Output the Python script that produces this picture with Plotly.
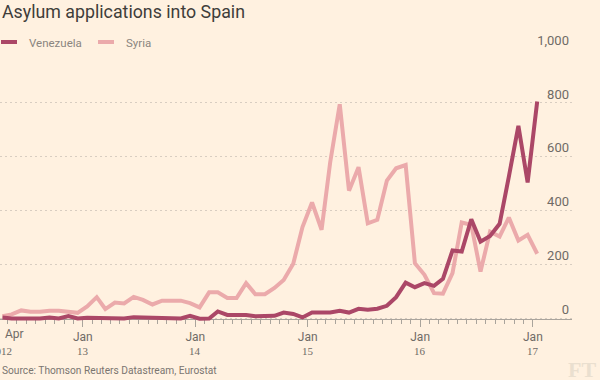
import pandas as pd
import plotly.graph_objects as go

# Monthly data, Apr 2012 - Jan 2017 (plotted mid-month)
months = pd.date_range("2012-04-01", "2017-01-01", freq="MS") + pd.Timedelta(days=14)

venezuela = [5, 1, 1, 1, 1, 5, 1, 10, 1, 4, 4, 1, 1, 1, 6, 5, 1, 1, 1, 1,
             11, 0, 1, 27, 14, 14, 14, 9, 11, 11, 23, 18, 5, 23, 23, 23, 30, 23, 37, 33,
             37, 48, 80, 134, 117, 132, 122, 148, 253, 249, 369, 286, 307, 352, 527, 715, 505, 805]

syria = [9, 16, 31, 26, 26, 30, 30, 26, 22, 46, 80, 36, 60, 57, 81, 70, 53, 67, 67, 67,
         58, 42, 98, 98, 77, 77, 132, 91, 91, 114, 144, 204, 340, 431, 330, 580, 795, 475, 562, 354,
         367, 512, 558, 570, 206, 163, 95, 93, 169, 357, 348, 175, 323, 305, 375, 290, 311, 241]

series_names = ["Venezuela", "Syria"]
y_ticks = [0, 200, 400, 600, 800, 1000]
y_ticktext = ["0", "200", "400", "600", "800", "1,000"]
year_ticks = ["2013-01-01", "2014-01-01", "2015-01-01", "2016-01-01", "2017-01-01"]
year_labels = ["13", "14", "15", "16", "17"]
month_ticks = pd.date_range("2012-05-01", "2016-12-01", freq="MS")

BG = "#fff1e0"
VEN = "#ab4767"
SYR = "#ebaaab"
GRAY = "#6f6b66"
AXIS = "#a9a49c"
SANS = "Roboto, 'Open Sans', sans-serif"
SERIF = "'Liberation Serif', 'DejaVu Serif', serif"

fig = go.Figure()
fig.add_trace(go.Scatter(x=months, y=syria, mode="lines", name=series_names[1],
                         line=dict(color=SYR, width=4), showlegend=False))
fig.add_trace(go.Scatter(x=months, y=venezuela, mode="lines", name=series_names[0],
                         line=dict(color=VEN, width=4), showlegend=False))

W, H = 600, 380
ml, mr, mt, mb = 0, 28, 49, 58
pw, ph = W - ml - mr, H - mt - mb
ymin, ymax = -12, 1000


def px_x(p):
    return (p - ml) / pw


def px_y(p):
    return (H - mb - p) / ph


fig.update_layout(
    width=W, height=H,
    margin=dict(l=ml, r=mr, t=mt, b=mb, autoexpand=False),
    paper_bgcolor=BG, plot_bgcolor=BG,
    font=dict(family=SANS, color=GRAY, size=12),
    xaxis=dict(
        type="date", range=["2012-04-07", "2017-05-08"], automargin=False,
        anchor="free", position=(0 - ymin) / (ymax - ymin),
        showline=True, linecolor=AXIS, linewidth=1,
        showgrid=False, zeroline=False,
        tickmode="array", tickvals=year_ticks, ticktext=["Jan"] * len(year_ticks),
        ticks="outside", ticklen=7, tickcolor=AXIS, tickwidth=1,
        tickfont=dict(size=12, color=GRAY),
        minor=dict(tickmode="array", tickvals=list(month_ticks), ticks="outside",
                   ticklen=4, tickcolor=AXIS, tickwidth=1, showgrid=False),
        layer="below traces",
    ),
    yaxis=dict(
        range=[ymin, ymax], side="right", automargin=False,
        tickmode="array", tickvals=y_ticks, ticktext=y_ticktext,
        ticklabelposition="inside", ticklabelshift=-9, ticklabeloverflow="allow",
        ticks="", showline=False, zeroline=False,
        showgrid=True, gridcolor="#d8cdc1", griddash="2px,3px", gridwidth=1,
        tickfont=dict(size=13, color=GRAY),
        layer="below traces",
    ),
    showlegend=False,
)

shapes = []
annotations = []
# title
annotations.append(dict(text="Asylum applications into Spain", xref="paper", yref="paper",
                        x=px_x(0), y=px_y(11.5), xanchor="left", yanchor="middle", showarrow=False,
                        font=dict(size=17.8, color="#403d3a", family=SANS)))
# custom legend
legend_items = [(series_names[0], VEN, 0, 27), (series_names[1], SYR, 97, 124)]
for name, col, x0, tx in legend_items:
    shapes.append(dict(type="line", xref="paper", yref="paper",
                       x0=px_x(x0 + 1), x1=px_x(x0 + 17), y0=px_y(42), y1=px_y(42),
                       line=dict(color=col, width=4)))
    annotations.append(dict(text=name, xref="paper", yref="paper", x=px_x(tx), y=px_y(42.5),
                            xanchor="left", yanchor="middle", showarrow=False,
                            font=dict(size=11.5, color="#8a857f", family=SANS)))

# year labels under the Jan ticks
for d, t in zip(year_ticks, year_labels):
    annotations.append(dict(text=t, xref="x", yref="paper", x=d, y=px_y(351),
                            xanchor="center", yanchor="middle", showarrow=False,
                            font=dict(size=11, color=GRAY, family=SERIF)))
# first tick label "Apr 2012"
annotations.append(dict(text="Apr", xref="paper", yref="paper", x=px_x(3), y=px_y(334),
                        xanchor="left", yanchor="middle", showarrow=False,
                        font=dict(size=12, color=GRAY, family=SANS)))
annotations.append(dict(text="2012", xref="paper", yref="paper", x=px_x(13.5), y=px_y(351),
                        xanchor="right", yanchor="middle", showarrow=False,
                        font=dict(size=11, color=GRAY, family=SERIF)))
# source
annotations.append(dict(text="Source: Thomson Reuters Datastream, Eurostat", xref="paper", yref="paper",
                        x=px_x(0), y=px_y(370), xanchor="left", yanchor="middle", showarrow=False,
                        font=dict(size=10.2, color="#7a7570", family=SANS)))
# FT mark
annotations.append(dict(text="<b>FT</b>", xref="paper", yref="paper", x=px_x(582), y=px_y(369),
                        xanchor="center", yanchor="middle", showarrow=False,
                        font=dict(size=22, color="#eadfcf", family=SERIF)))

fig.update_layout(shapes=shapes, annotations=annotations)
fig.write_html("out.html", config={"displayModeBar": False},
               post_script="document.body.style.margin='0';document.body.style.background='%s';" % BG)
